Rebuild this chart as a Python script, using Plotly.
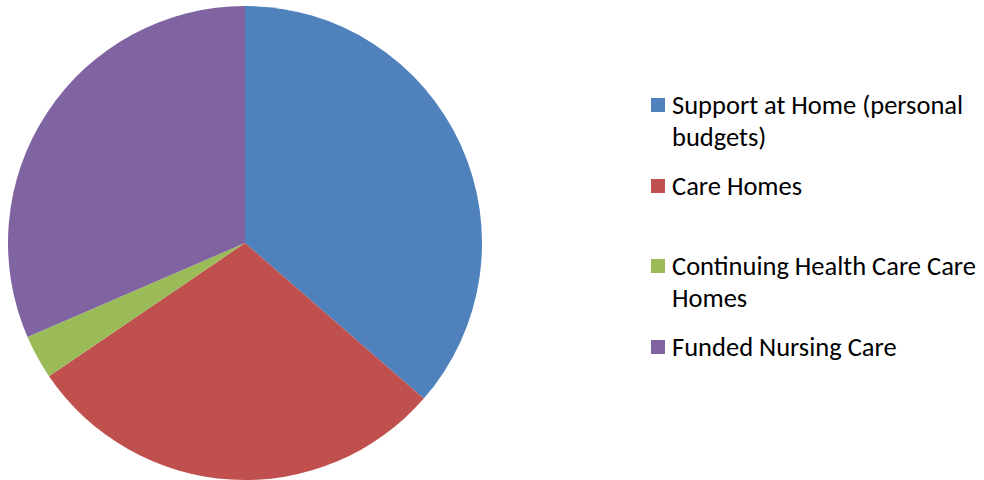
import plotly.graph_objects as go

# Share of funding by care type
labels = [
    "Support at Home (personal<br>budgets)",
    "Care Homes",
    "Continuing Health Care Care<br>Homes",
    "Funded Nursing Care",
]
values = [36.4, 29.1, 3.0, 31.5]
colors = ["#4F81BD", "#C0504D", "#9BBB59", "#8064A2"]

W, H = 984, 480
FONT = "Carlito, Lato, sans-serif"
FONT_SIZE = 26.5
LINE_GAP = 32  # px between wrapped lines of one legend entry

fig = go.Figure(
    go.Pie(
        labels=labels,
        values=values,
        sort=False,
        direction="clockwise",
        rotation=0,
        textinfo="none",
        hoverinfo="label+percent",
        marker=dict(colors=colors, line=dict(width=0)),
        domain=dict(x=[8 / W, 482 / W], y=[0, 474 / H]),
        showlegend=False,
    )
)

# Legend drawn as swatches plus text, one row per category
row_centers = [105, 186, 266, 347]  # first-line centre of each entry, px from top
shapes = []
annotations = []
for name, col, yc in zip(labels, colors, row_centers):
    shapes.append(dict(
        type="rect", xref="paper", yref="paper",
        x0=651 / W, x1=665 / W,
        y0=1 - (yc + 7) / H, y1=1 - (yc - 7) / H,
        fillcolor=col, line=dict(width=0),
    ))
    for i, line in enumerate(name.split("<br>")):
        annotations.append(dict(
            xref="paper", yref="paper",
            x=670 / W, y=1 - (yc + i * LINE_GAP) / H,
            xanchor="left", yanchor="middle", align="left",
            text=line, showarrow=False,
            font=dict(family=FONT, size=FONT_SIZE, color="#000000"),
        ))

fig.update_layout(
    width=W, height=H,
    margin=dict(l=0, r=0, t=0, b=0),
    paper_bgcolor="white",
    plot_bgcolor="white",
    shapes=shapes,
    annotations=annotations,
)

fig.write_html("out.html")
